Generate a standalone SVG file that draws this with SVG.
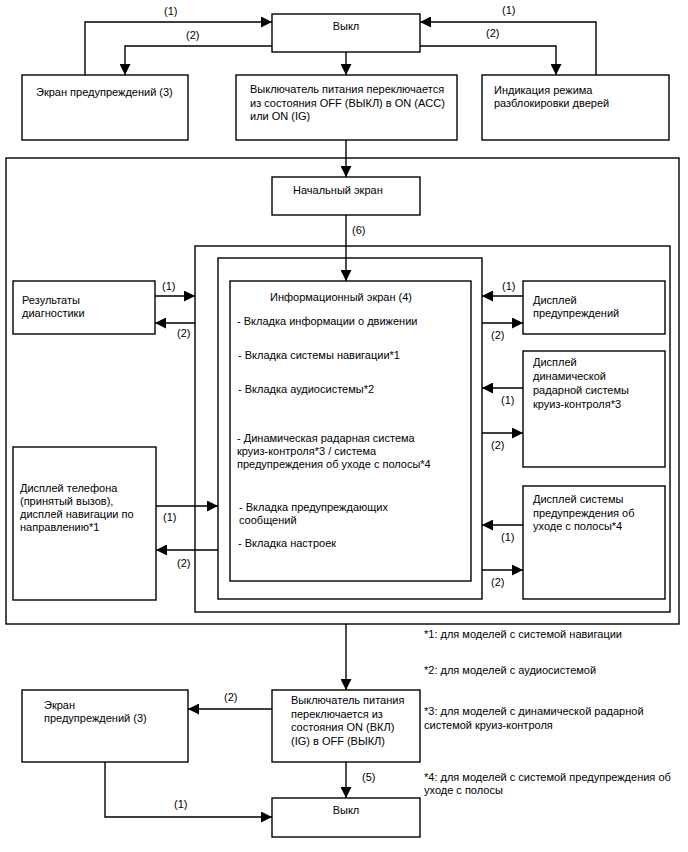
<svg xmlns="http://www.w3.org/2000/svg" width="688" height="852" viewBox="0 0 688 852">
<style>
.b{fill:#fff;stroke:#000;stroke-width:1.4}
.c{fill:none;stroke:#000;stroke-width:1.4;marker-end:url(#ah)}
text{font-family:"Liberation Sans",Arial,sans-serif;font-size:11px;fill:#000}
.m{text-anchor:middle}
</style>
<defs>
<marker id="ah" markerUnits="userSpaceOnUse" markerWidth="11" markerHeight="11" refX="11" refY="5.5" orient="auto">
<path d="M0,0 L11,5.5 L0,11 z" fill="#000"/>
</marker>
</defs>
<rect width="688" height="852" fill="#fff"/>
<g id="outer-frame"><rect class="b" x="6" y="158" width="673" height="466"/></g>
<g id="frame2"><rect class="b" x="195" y="246" width="475" height="366"/></g>
<g id="frame3"><rect class="b" x="218" y="258" width="264" height="341"/></g>

<g id="off-top"><rect class="b" x="272" y="14" width="148" height="38"/><text class="m" x="346" y="30">Выкл</text></g>
<g id="warn-top"><rect class="b" x="22" y="75" width="166" height="65"/><text x="36" y="96">Экран предупреждений (3)</text></g>
<g id="switch-on"><rect class="b" x="236" y="75" width="221" height="65"/>
<text x="250" y="93">Выключатель питания переключается</text>
<text x="250" y="106.5">из состояния OFF (ВЫКЛ) в ON (ACC)</text>
<text x="250" y="120">или ON (IG)</text></g>
<g id="door"><rect class="b" x="482" y="75" width="187" height="65"/>
<text x="494" y="94">Индикация режима</text>
<text x="494" y="107">разблокировки дверей</text></g>

<g id="home"><rect class="b" x="272" y="177" width="148" height="38"/><text x="293" y="194">Начальный экран</text></g>
<g id="info"><rect class="b" x="230" y="281" width="241" height="300"/>
<text x="270" y="301">Информационный экран (4)</text>
<text x="237" y="325">- Вкладка информации о движении</text>
<text x="238" y="359">- Вкладка системы навигации*1</text>
<text x="238" y="393">- Вкладка аудиосистемы*2</text>
<text x="237" y="442">- Динамическая радарная система</text>
<text x="237" y="455">круиз-контроля*3 / система</text>
<text x="237" y="468">предупреждения об уходе с полосы*4</text>
<text x="239" y="511">- Вкладка предупреждающих</text>
<text x="239" y="524">сообщений</text>
<text x="238" y="547">- Вкладка настроек</text></g>

<g id="diag"><rect class="b" x="13" y="281" width="142" height="53"/>
<text x="22" y="304">Результаты</text><text x="22" y="317">диагностики</text></g>
<g id="phone"><rect class="b" x="13" y="447" width="143" height="153"/>
<text x="20" y="492">Дисплей телефона</text>
<text x="20" y="505">(принятый вызов),</text>
<text x="20" y="518">дисплей навигации по</text>
<text x="20" y="531">направлению*1</text></g>
<g id="warn-disp"><rect class="b" x="523" y="281" width="142" height="53"/>
<text x="533" y="304">Дисплей</text><text x="533" y="317">предупреждений</text></g>
<g id="acc-disp"><rect class="b" x="523" y="351" width="142" height="116"/>
<text x="533" y="366">Дисплей</text>
<text x="533" y="380">динамической</text>
<text x="533" y="394">радарной системы</text>
<text x="533" y="408">круиз-контроля*3</text></g>
<g id="lane-disp"><rect class="b" x="523" y="486" width="142" height="113"/>
<text x="533" y="503">Дисплей системы</text>
<text x="533" y="517">предупреждения об</text>
<text x="533" y="530">уходе с полосы*4</text></g>

<g id="warn-bottom"><rect class="b" x="22" y="690" width="166" height="72"/>
<text x="44" y="709">Экран</text><text x="44" y="722">предупреждений (3)</text></g>
<g id="switch-off"><rect class="b" x="272" y="690" width="148" height="72"/>
<text x="291" y="704">Выключатель питания</text>
<text x="291" y="717.5">переключается из</text>
<text x="291" y="731">состояния ON (ВКЛ)</text>
<text x="291" y="744.5">(IG) в OFF (ВЫКЛ)</text></g>
<g id="off-bottom"><rect class="b" x="272" y="798" width="148" height="39"/><text class="m" x="346" y="814">Выкл</text></g>

<g id="notes">
<text x="424" y="638">*1: для моделей с системой навигации</text>
<text x="424" y="674">*2: для моделей с аудиосистемой</text>
<text x="424" y="715">*3: для моделей с динамической радарной</text>
<text x="424" y="729">системой круиз-контроля</text>
<text x="424" y="781">*4: для моделей с системой предупреждения об</text>
<text x="424" y="794">уходе с полосы</text>
</g>

<g id="connectors">
<path class="c" d="M85,75 V22 H272"/>
<path class="c" d="M272,46 H125 V75"/>
<path class="c" d="M596,75 V22 H420"/>
<path class="c" d="M420,46 H556 V75"/>
<path class="c" d="M346,52 V75"/>
<path class="c" d="M346,140 V177"/>
<path class="c" d="M346,215 V281"/>
<path class="c" d="M155,296 H195"/>
<path class="c" d="M195,323 H155"/>
<path class="c" d="M156,506 H218"/>
<path class="c" d="M218,550 H156"/>
<path class="c" d="M523,296 H482"/>
<path class="c" d="M482,323 H523"/>
<path class="c" d="M523,388 H482"/>
<path class="c" d="M482,433 H523"/>
<path class="c" d="M523,525 H482"/>
<path class="c" d="M482,570 H523"/>
<path class="c" d="M346,624 V690"/>
<path class="c" d="M272,709 H188"/>
<path class="c" d="M346,762 V798"/>
<path class="c" d="M105,762 V817 H272"/>
<text x="164" y="15">(1)</text>
<text x="186" y="39">(2)</text>
<text x="502" y="14">(1)</text>
<text x="486" y="37">(2)</text>
<text x="352" y="234">(6)</text>
<text x="162" y="290">(1)</text>
<text x="177" y="337">(2)</text>
<text x="502" y="290">(1)</text>
<text x="491" y="339">(2)</text>
<text x="501" y="404">(1)</text>
<text x="491" y="449">(2)</text>
<text x="501" y="541">(1)</text>
<text x="491" y="586">(2)</text>
<text x="163" y="521">(1)</text>
<text x="177" y="567">(2)</text>
<text x="224" y="701">(2)</text>
<text x="174" y="808">(1)</text>
<text x="362" y="781">(5)</text>
</g>
</svg>
